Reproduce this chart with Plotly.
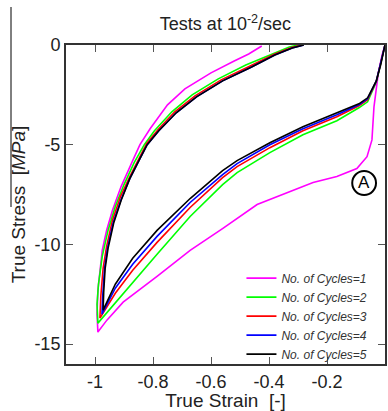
import plotly.graph_objects as go

# ---------------- data ----------------
cycle_names = ["No. of Cycles=1", "No. of Cycles=2", "No. of Cycles=3",
               "No. of Cycles=4", "No. of Cycles=5"]
cycle_colors = ["#FF00FF", "#00FF00", "#FF0000", "#0000FF", "#000000"]

# each cycle: loading (0 -> tip) then unloading (tip -> zero stress)
strain_c1 = [0, -0.01, -0.023, -0.038, -0.045, -0.062, -0.097, -0.166, -0.248,
             -0.338, -0.441, -0.559, -0.672, -0.786, -0.903, -0.959, -0.99,
             -0.993, -0.99, -0.975, -0.96, -0.94, -0.91, -0.87, -0.845, -0.81,
             -0.75, -0.69, -0.6, -0.52, -0.47, -0.425]
stress_c1 = [0, -0.5, -1.4, -3.1, -4.76, -5.6, -6.2, -6.6, -6.9,
             -7.4, -8.0, -9.2, -10.3, -11.6, -12.9, -13.8, -14.4,
             -13.5, -12.3, -10.3, -9.3, -8.3, -7.1, -5.8, -5.0, -4.2,
             -3.0, -2.2, -1.4, -0.8, -0.45, -0.05]

strain_c2 = [0, -0.015, -0.03, -0.06, -0.09, -0.166, -0.283, -0.397, -0.51,
             -0.56, -0.672, -0.786, -0.87, -0.93, -0.96, -0.99,
             -0.993, -0.988, -0.975, -0.955, -0.93, -0.9, -0.865, -0.83,
             -0.795, -0.735, -0.665, -0.575, -0.48, -0.39, -0.33, -0.30]
stress_c2 = [0, -0.9, -1.85, -2.85, -3.15, -3.8, -4.5, -5.4, -6.4,
             -7.0, -8.6, -10.5, -11.9, -12.9, -13.4, -13.95,
             -13.0, -12.0, -10.6, -9.3, -8.1, -7.0, -5.9, -5.0,
             -4.3, -3.35, -2.5, -1.7, -1.0, -0.45, -0.1, 0]

strain_c3 = [0, -0.015, -0.03, -0.06, -0.09, -0.166, -0.283, -0.397, -0.51,
             -0.56, -0.672, -0.786, -0.87, -0.93, -0.96, -0.983,
             -0.98, -0.972, -0.96, -0.94, -0.912, -0.88, -0.845, -0.822,
             -0.783, -0.725, -0.655, -0.565, -0.465, -0.38, -0.32, -0.285]
stress_c3 = [0, -0.95, -1.82, -2.75, -3.05, -3.6, -4.3, -5.15, -6.1,
             -6.65, -8.15, -9.9, -11.3, -12.45, -13.15, -13.7,
             -12.6, -11.2, -10.1, -8.8, -7.6, -6.6, -5.6, -4.95,
             -4.25, -3.35, -2.55, -1.75, -1.05, -0.45, -0.12, 0]

strain_c4 = [0, -0.015, -0.03, -0.06, -0.09, -0.166, -0.283, -0.397, -0.51,
             -0.56, -0.672, -0.786, -0.87, -0.93, -0.96, -0.976,
             -0.973, -0.967, -0.957, -0.937, -0.91, -0.88, -0.845, -0.82,
             -0.78, -0.72, -0.65, -0.56, -0.46, -0.38, -0.32, -0.28]
stress_c4 = [0, -0.98, -1.81, -2.7, -3.0, -3.5, -4.2, -5.0, -5.95,
             -6.5, -7.9, -9.6, -11.0, -12.2, -13.0, -13.5,
             -12.5, -11.2, -10.2, -8.9, -7.75, -6.7, -5.7, -5.0,
             -4.3, -3.4, -2.6, -1.8, -1.1, -0.5, -0.15, 0]

strain_c5 = [0, -0.015, -0.03, -0.06, -0.09, -0.166, -0.283, -0.397, -0.51,
             -0.56, -0.672, -0.786, -0.87, -0.93, -0.96, -0.972,
             -0.97, -0.965, -0.955, -0.935, -0.91, -0.88, -0.845, -0.82,
             -0.78, -0.72, -0.65, -0.56, -0.46, -0.38, -0.32, -0.28]
stress_c5 = [0, -1.0, -1.8, -2.65, -2.95, -3.4, -4.1, -4.9, -5.8,
             -6.3, -7.7, -9.3, -10.7, -12.0, -12.9, -13.3,
             -12.4, -11.2, -10.2, -8.9, -7.8, -6.7, -5.7, -5.0,
             -4.3, -3.4, -2.6, -1.8, -1.1, -0.5, -0.15, 0]

x_tick_vals = [-1, -0.8, -0.6, -0.4, -0.2, 0]
x_tick_text = ["-1", "-0.8", "-0.6", "-0.4", "-0.2", "0"]
y_tick_vals = [-15, -10, -5, 0]
y_tick_text = ["-15", "-10", "-5", "0"]

marker_label = "A"
marker_strain = -0.072
marker_stress = -6.92

# ---------------- figure ----------------
FONT = "Liberation Sans, Arial, sans-serif"
strains = [strain_c1, strain_c2, strain_c3, strain_c4, strain_c5]
stresses = [stress_c1, stress_c2, stress_c3, stress_c4, stress_c5]

fig = go.Figure()
for name, col, xs, ys in zip(cycle_names, cycle_colors, strains, stresses):
    fig.add_trace(go.Scatter(
        x=xs, y=ys, mode="lines", name="<i>" + name + "</i>",
        line=dict(color=col, width=1.6),
    ))

axis_common = dict(
    showgrid=False, zeroline=False, showline=True, linecolor="#333333",
    linewidth=2, mirror="ticks", ticks="inside", ticklen=7, tickwidth=1,
    tickcolor="#555555", tickfont=dict(family=FONT, size=18, color="#222222"),
    automargin=False,
)

fig.update_layout(
    width=388, height=411,
    margin=dict(l=66, r=3, t=45, b=47),
    paper_bgcolor="white", plot_bgcolor="white",
    font=dict(family=FONT, color="#222222"),
    title=dict(text="Tests at 10<sup>-2</sup>/sec", x=0.5, xref="paper",
               y=1 - 24 / 411, yref="container", yanchor="middle",
               font=dict(family=FONT, size=18, color="#222222")),
    xaxis=dict(range=[-1.1, 0], tickvals=x_tick_vals, ticktext=x_tick_text,
               title=dict(text="True Strain  [-]", standoff=4,
                          font=dict(family=FONT, size=19, color="#222222")),
               **axis_common),
    yaxis=dict(range=[-16, 0], tickvals=y_tick_vals, ticktext=y_tick_text,
               title=dict(text="True Stress  [<i>MPa</i>]", standoff=4,
                          font=dict(family=FONT, size=19, color="#222222")),
               **axis_common),
    legend=dict(x=0.55, xanchor="left", y=0.15, yanchor="middle",
                bgcolor="rgba(0,0,0,0)", borderwidth=0,
                font=dict(family=FONT, size=12, color="#333333"),
                tracegroupgap=0),
    showlegend=True,
)

# circled marker "A"
fig.add_shape(type="circle", xref="x", yref="y",
              x0=marker_strain - 0.041, x1=marker_strain + 0.041,
              y0=marker_stress - 0.6, y1=marker_stress + 0.6,
              line=dict(color="black", width=2))
fig.add_annotation(x=marker_strain, y=marker_stress, text=marker_label,
                   showarrow=False, font=dict(family=FONT, size=17, color="black"))

# thin vertical line at the far left of the picture
fig.add_shape(type="line", xref="paper", yref="paper",
              x0=(11 - 66) / 319, x1=(11 - 66) / 319,
              y0=(364 - 7) / 319, y1=(364 - 207) / 319,
              line=dict(color="black", width=1))

fig.write_html("out.html", config={"displayModeBar": False},
               post_script="document.body.style.margin='0';document.body.style.padding='0';")
